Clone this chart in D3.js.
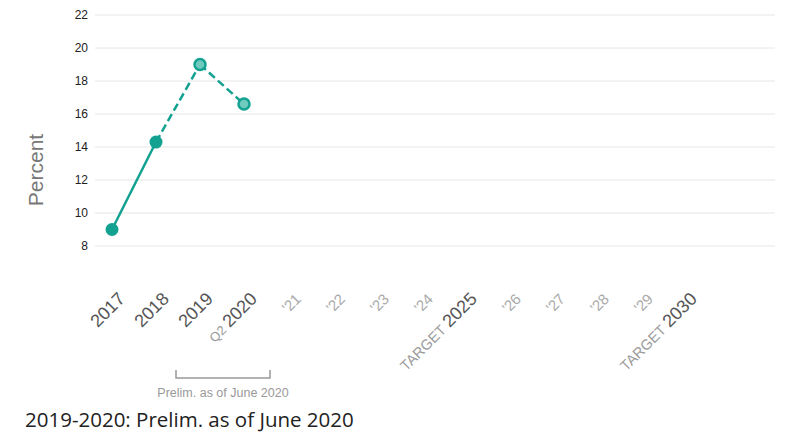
<!DOCTYPE html>
<html>
<head>
<meta charset="utf-8">
<script src="https://cdn.jsdelivr.net/npm/d3@7"></script>
<style>
  html, body { margin: 0; padding: 0; background: #fff; }
  svg { display: block; }
</style>
</head>
<body>
<svg id="chart" width="796" height="434"></svg>
<script>
// Category keys along the x axis
const categories = ["2017", "2018", "2019", "Q2 2020", "'21", "'22", "'23", "'24",
                    "TARGET 2025", "'26", "'27", "'28", "'29", "TARGET 2030"];
// Label parts: small prefix + main text, and whether the label is a minor year
const labelPrefix = ["", "", "", "Q2 ", "", "", "", "", "TARGET ", "", "", "", "", "TARGET "];
const labelMain   = ["2017", "2018", "2019", "2020", "'21", "'22", "'23", "'24",
                     "2025", "'26", "'27", "'28", "'29", "2030"];
const labelMinor  = [false, false, false, false, true, true, true, true,
                     false, true, true, true, true, false];
// Observed share (percent)
const obsCategories = ["2017", "2018", "2019", "Q2 2020"];
const obsValues = [9.0, 14.3, 19.0, 16.6];
const obsPrelim = [false, false, true, true];
// Y axis ticks
const yTicks = [8, 10, 12, 14, 16, 18, 20, 22];

const svg = d3.select("#chart");
const teal = "#13a191";
const sans = "'Liberation Sans', Arial, sans-serif";

const x = d3.scalePoint().domain(categories).range([112, 684]);
const y = d3.scaleLinear().domain([8, 22]).range([246, 15]);

// Gridlines
svg.append("g").selectAll("line").data(yTicks).join("line")
  .attr("x1", 95).attr("x2", 775)
  .attr("y1", d => y(d)).attr("y2", d => y(d))
  .attr("stroke", "#e6e6e6").attr("stroke-width", 1);

// Y axis tick labels
const yAxis = d3.axisLeft(y).tickValues(yTicks).tickSize(0).tickPadding(0);
const gy = svg.append("g").attr("transform", "translate(88,0)").call(yAxis);
gy.select(".domain").remove();
gy.selectAll("text")
  .attr("font-family", sans)
  .attr("font-size", 12).attr("fill", "#222");

// Y axis title
svg.append("text")
  .attr("transform", "translate(43,170) rotate(-90)")
  .attr("text-anchor", "middle")
  .attr("font-family", sans)
  .attr("font-size", 21).attr("fill", "#777")
  .text("Percent");

// X labels, rotated
const xl = svg.append("g").selectAll("text").data(categories).join("text")
  .attr("transform", d => `translate(${x(d) + 14},300) rotate(-45)`)
  .attr("text-anchor", "end")
  .attr("font-family", sans);
xl.each(function(d, i) {
  const t = d3.select(this);
  if (labelPrefix[i]) {
    t.append("tspan")
      .attr("font-size", labelPrefix[i].startsWith("TARGET") ? 14.5 : 13)
      .attr("fill", "#9a9a9a").text(labelPrefix[i]);
  }
  t.append("tspan")
    .attr("font-size", labelMinor[i] ? 15 : 18)
    .attr("fill", labelMinor[i] ? "#aaaaaa" : "#555")
    .text(labelMain[i]);
});

// Line segments: solid for final data, dashed into preliminary points
const segs = d3.range(obsValues.length - 1).map(i => ({
  a: i, b: i + 1, dashed: obsPrelim[i + 1]
}));
svg.append("g").selectAll("line").data(segs).join("line")
  .attr("x1", d => x(obsCategories[d.a])).attr("y1", d => y(obsValues[d.a]))
  .attr("x2", d => x(obsCategories[d.b])).attr("y2", d => y(obsValues[d.b]))
  .attr("stroke", teal).attr("stroke-width", 2.5)
  .attr("stroke-dasharray", d => d.dashed ? "8,4" : null);

// Markers
svg.append("g").selectAll("circle").data(obsValues).join("circle")
  .attr("cx", (d, i) => x(obsCategories[i]))
  .attr("cy", d => y(d))
  .attr("r", (d, i) => obsPrelim[i] ? 5.5 : 6.5)
  .attr("fill", (d, i) => obsPrelim[i] ? "#6fc9bd" : teal)
  .attr("stroke", teal)
  .attr("stroke-width", (d, i) => obsPrelim[i] ? 2.5 : 0);

// Bracket under preliminary years
const bx1 = x("2019") - 24, bx2 = x("Q2 2020") + 26;
svg.append("path")
  .attr("d", `M${bx1},370 V378 H${bx2} V370`)
  .attr("fill", "none").attr("stroke", "#999").attr("stroke-width", 1.5);
svg.append("text")
  .attr("x", (bx1 + bx2) / 2).attr("y", 397)
  .attr("text-anchor", "middle")
  .attr("font-family", sans)
  .attr("font-size", 12.5).attr("fill", "#999")
  .text("Prelim. as of June 2020");

// Footnote
svg.append("text")
  .attr("x", 25).attr("y", 427)
  .attr("font-family", "'Open Sans', 'Noto Sans', sans-serif")
  .attr("font-size", 20.5).attr("fill", "#222")
  .text("2019-2020: Prelim. as of June 2020");
</script>
</body>
</html>
